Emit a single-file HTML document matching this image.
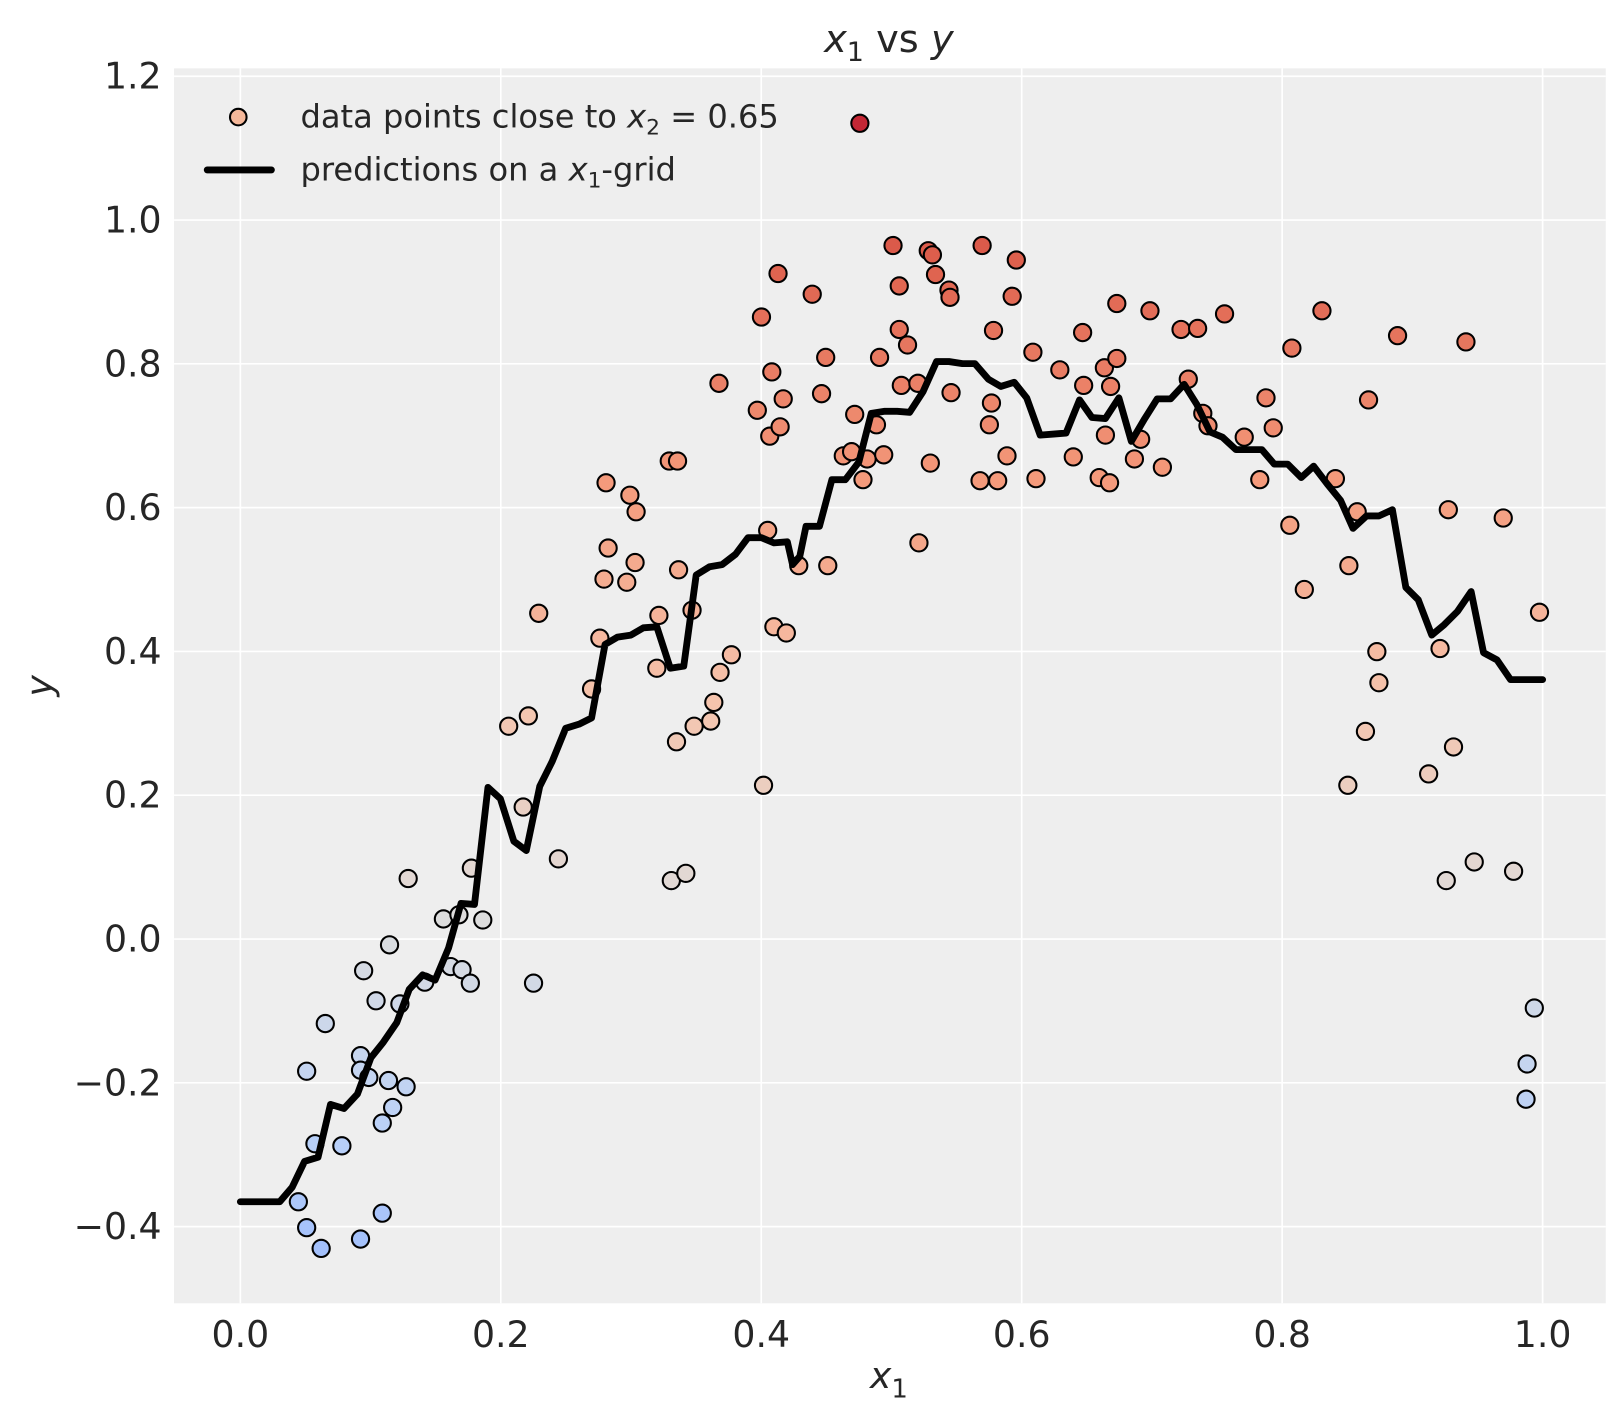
<!DOCTYPE html>
<html><head><meta charset="utf-8"><style>
body{margin:0;background:#fff}
svg{display:block;font-family:"DejaVu Sans","Liberation Sans",sans-serif}
</style></head><body>
<svg id="s" width="1623" height="1423" viewBox="0 0 1623 1423">
<rect x="0" y="0" width="1623" height="1423" fill="#fff"/>
<g transform="scale(1.036)">
<rect x="168" y="66" width="1382" height="1192" fill="#eeeeee"/>
<g id="grid" stroke="#fff" stroke-width="1.6"></g>
<g id="ticks" font-size="35" fill="#262626"></g>
<text x="858" y="50" font-size="37" text-anchor="middle" fill="#262626"><tspan font-style="italic">x</tspan><tspan font-size="26" dy="9">1</tspan><tspan dy="-9"> vs </tspan><tspan font-style="italic">y</tspan></text>
<text x="858" y="1340" font-size="35" text-anchor="middle" fill="#262626"><tspan font-style="italic">x</tspan><tspan font-size="25" dy="9">1</tspan></text>
<text x="50" y="662" font-size="35" text-anchor="middle" fill="#262626" font-style="italic" transform="rotate(-90 50 662)">y</text>
<g id="pts" stroke="#000" stroke-width="2"></g>
<polyline id="line" fill="none" stroke="#000" stroke-width="6.6" stroke-linejoin="round" stroke-linecap="round"/>
<circle cx="230" cy="113" r="8" fill="#f5b89a" stroke="#000" stroke-width="2"/>
<line x1="200" y1="164" x2="262" y2="164" stroke="#000" stroke-width="6.6" stroke-linecap="round"/>
<text x="290" y="123" font-size="31" fill="#262626">data points close to <tspan font-style="italic">x</tspan><tspan font-size="21" dy="7">2</tspan><tspan dy="-7"> = 0.65</tspan></text>
<text x="290" y="174" font-size="31" fill="#262626">predictions on a <tspan font-style="italic">x</tspan><tspan font-size="21" dy="7">1</tspan><tspan dy="-7">-grid</tspan></text>
</g>
</svg>
<script>
const NS="http://www.w3.org/2000/svg";
function el(t,a,p,txt){const e=document.createElementNS(NS,t);for(const k in a)e.setAttribute(k,a[k]);if(txt)e.textContent=txt;document.getElementById(p).appendChild(e);return e;}
for(let i=0;i<=5;i++){const x=232+i*251.4;el('line',{x1:x,y1:66,x2:x,y2:1258},'grid');el('text',{x:x,y:1300,'text-anchor':'middle'},'ticks',(i*0.2).toFixed(1));}
const yl=["\u22120.4","\u22120.2","0.0","0.2","0.4","0.6","0.8","1.0","1.2"];
for(let i=0;i<9;i++){const y=1184-i*138.8;el('line',{x1:168,y1:y,x2:1550,y2:y},'grid');el('text',{x:156,y:y+12,'text-anchor':'end'},'ticks',yl[i]);}
const P=[[288,1160],[296,1185],[310,1205],[348,1196],[369,1171],[296,1034],[304,1104],[330,1106],[314,988],[348,1019],[348,1033],[351,937],[356,1040],[363,966],[369,1084],[375,1043],[379,1069],[376,912],[386,969],[392,1049],[394,848],[410,948],[428,887],[435,933],[443,883],[446,936],[454,949],[455,838],[466,888],[491,701],[505,779],[510,691],[515,949],[520,592],[539,829],[571,665],[579,616],[583,559],[585,466],[587,529],[605,562],[608,478],[613,543],[614,494],[634,645],[636,594],[646,445],[648,850],[653,716],[654,445],[655,550],[662,843],[668,589],[670,701],[686,696],[689,678],[694,370],[695,649],[706,632],[731,396],[735,306],[737,758],[741,512],[743,421],[745,359],[747,605],[753,412],[756,385],[759,611],[751,264],[771,546],[784,284],[793,380],[797,345],[799,546],[814,440],[822,436],[825,400],[830,119],[833,463],[837,443],[846,410],[849,345],[853,439],[862,237],[868,276],[868,318],[870,372],[876,333],[887,524],[886,370],[896,242],[898,447],[900,246],[903,265],[916,280],[917,287],[918,379],[946,464],[948,237],[955,410],[957,389],[959,319],[963,464],[972,440],[977,286],[981,251],[997,340],[1000,462],[1023,357],[1036,441],[1045,321],[1046,372],[1061,461],[1066,355],[1067,420],[1071,466],[1072,373],[1078,346],[1078,293],[1095,443],[1101,424],[1110,300],[1122,451],[1140,318],[1147,366],[1156,317],[1161,399],[1166,411],[1182,303],[1201,422],[1216,463],[1222,384],[1229,413],[1245,507],[1247,336],[1259,569],[1276,300],[1289,462],[1301,758],[1302,546],[1310,494],[1318,706],[1321,386],[1329,629],[1331,659],[1349,324],[1379,747],[1390,626],[1396,850],[1398,492],[1403,721],[1415,330],[1423,832],[1451,500],[1461,841],[1474,1027],[1473,1061],[1481,973],[1486,591]];
const S=[[0,[58,76,193]],[.125,[98,130,234]],[.25,[141,176,254]],[.375,[184,208,249]],[.5,[221,221,221]],[.625,[245,196,173]],[.75,[244,154,123]],[.875,[222,96,77]],[1,[180,4,38]]];
function cm(t){t=Math.max(0,Math.min(1,t));for(let i=1;i<S.length;i++){if(t<=S[i][0]){const a=S[i-1],b=S[i],f=(t-a[0])/(b[0]-a[0]);return 'rgb('+a[1].map((v,k)=>Math.round(v+(b[1][k]-v)*f)).join(',')+')';}}}
P.forEach(p=>{const v=(906-p[1])/694;el('circle',{cx:p[0],cy:p[1],r:8.3,fill:cm((v+1.2)/2.45)},'pts');});
const L=[[232,1160],[270,1160],[282,1146],[294,1121],[307,1117],[319,1066],[332,1070],[345,1056],[358,1021],[370,1006],[383,987],[395,955],[408,941],[420,946],[433,915],[445,872],[458,873],[471,760],[483,771],[496,812],[508,821],[521,759],[533,735],[546,703],[559,699],[571,693],[584,622],[596,615],[609,613],[621,606],[634,605],[647,645],[660,643],[672,555],[685,547],[697,545],[710,535],[722,519],[735,519],[747,524],[760,523],[765,545],[772,537],[778,508],[791,508],[803,463],[816,463],[829,446],[841,399],[854,397],[866,397],[878,398],[891,378],[904,349],[916,349],[929,351],[941,351],[954,366],[966,373],[979,369],[991,384],[1004,420],[1017,419],[1029,418],[1042,386],[1054,403],[1067,404],[1080,384],[1092,426],[1105,404],[1117,385],[1130,385],[1143,371],[1155,390],[1168,417],[1180,422],[1193,434],[1205,434],[1218,434],[1230,448],[1243,448],[1256,461],[1268,450],[1281,467],[1294,483],[1306,510],[1319,498],[1331,498],[1344,492],[1357,567],[1369,579],[1382,613],[1394,603],[1407,590],[1420,571],[1432,630],[1445,637],[1458,656],[1489,656]];
document.getElementById('line').setAttribute('points',L.map(p=>p.join(',')).join(' '));
</script>
</body></html>
